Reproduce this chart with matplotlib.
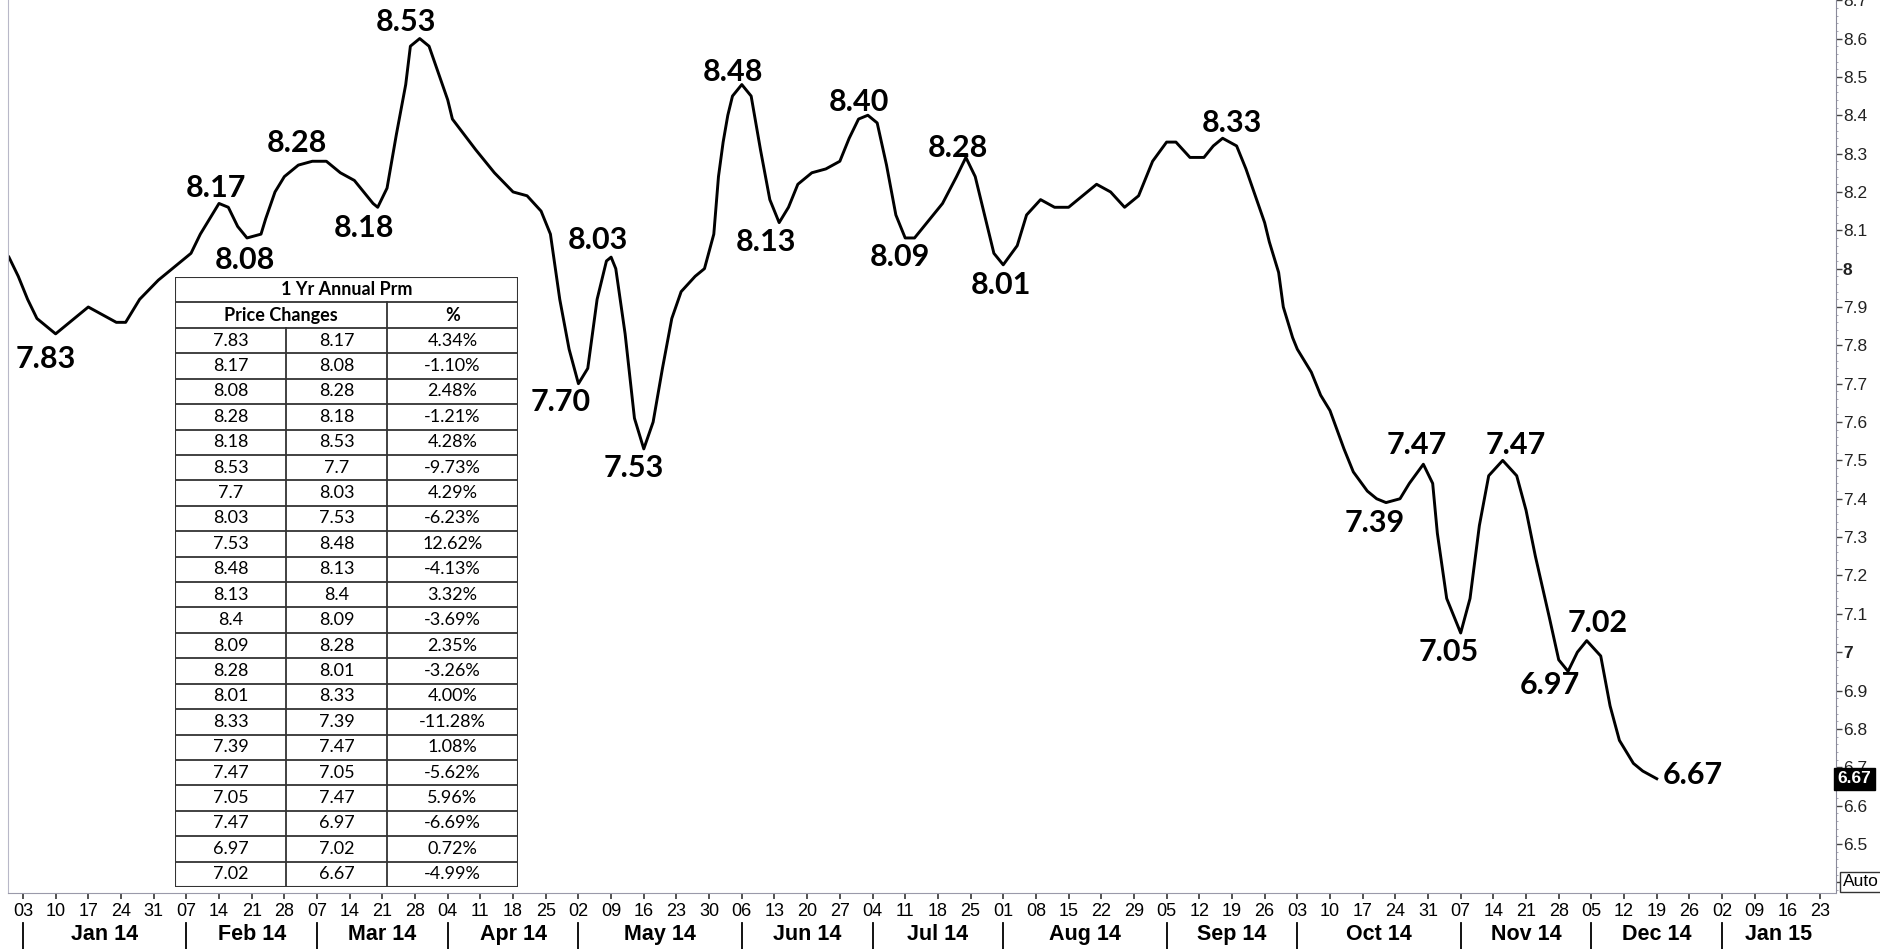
import matplotlib
matplotlib.use('Agg')
import matplotlib.pyplot as plt
import matplotlib.dates as mdates
import matplotlib.transforms as mtransforms
from matplotlib.patches import Rectangle
from matplotlib.ticker import MultipleLocator, FuncFormatter
import pandas as pd

# 1 Yr Annual Prm
dates = [
    '2013-12-31', '2014-01-02', '2014-01-04', '2014-01-06', '2014-01-09', '2014-01-10',
    '2014-01-12', '2014-01-15', '2014-01-17', '2014-01-20', '2014-01-23', '2014-01-25',
    '2014-01-28', '2014-02-01', '2014-02-05', '2014-02-08', '2014-02-10', '2014-02-12',
    '2014-02-14', '2014-02-16', '2014-02-18', '2014-02-20', '2014-02-23', '2014-02-24',
    '2014-02-26', '2014-02-28', '2014-03-03', '2014-03-06', '2014-03-09', '2014-03-12',
    '2014-03-15', '2014-03-17', '2014-03-19', '2014-03-20', '2014-03-22', '2014-03-24',
    '2014-03-26', '2014-03-27', '2014-03-29', '2014-03-31', '2014-04-02', '2014-04-04',
    '2014-04-05', '2014-04-10', '2014-04-14', '2014-04-18', '2014-04-21', '2014-04-24',
    '2014-04-26', '2014-04-28', '2014-04-30', '2014-05-02', '2014-05-04', '2014-05-06',
    '2014-05-08', '2014-05-09', '2014-05-10', '2014-05-12', '2014-05-14', '2014-05-16',
    '2014-05-18', '2014-05-20', '2014-05-22', '2014-05-24', '2014-05-27', '2014-05-29',
    '2014-05-31', '2014-06-01', '2014-06-02', '2014-06-03', '2014-06-04', '2014-06-06',
    '2014-06-08', '2014-06-10', '2014-06-12', '2014-06-14', '2014-06-16', '2014-06-18',
    '2014-06-21', '2014-06-24', '2014-06-27', '2014-06-29', '2014-07-01', '2014-07-03',
    '2014-07-05', '2014-07-07', '2014-07-09', '2014-07-11', '2014-07-13', '2014-07-15',
    '2014-07-19', '2014-07-22', '2014-07-24', '2014-07-26', '2014-07-28', '2014-07-30',
    '2014-08-01', '2014-08-04', '2014-08-06', '2014-08-09', '2014-08-12', '2014-08-15',
    '2014-08-18', '2014-08-21', '2014-08-24', '2014-08-27', '2014-08-30', '2014-09-02',
    '2014-09-05', '2014-09-07', '2014-09-10', '2014-09-13', '2014-09-15', '2014-09-17',
    '2014-09-20', '2014-09-22', '2014-09-24', '2014-09-26', '2014-09-27', '2014-09-29',
    '2014-09-30', '2014-10-02', '2014-10-03', '2014-10-06', '2014-10-08', '2014-10-10',
    '2014-10-13', '2014-10-15', '2014-10-18', '2014-10-20', '2014-10-22', '2014-10-25',
    '2014-10-27', '2014-10-30', '2014-11-01', '2014-11-02', '2014-11-04', '2014-11-07',
    '2014-11-09', '2014-11-11', '2014-11-13', '2014-11-16', '2014-11-19', '2014-11-21',
    '2014-11-23', '2014-11-26', '2014-11-28', '2014-11-30', '2014-12-02', '2014-12-04',
    '2014-12-07', '2014-12-09', '2014-12-11', '2014-12-14', '2014-12-16', '2014-12-19',
]
values = [
    8.03, 7.98, 7.92, 7.87, 7.84, 7.83,
    7.85, 7.88, 7.90, 7.88, 7.86, 7.86,
    7.92, 7.97, 8.01, 8.04, 8.09, 8.13,
    8.17, 8.16, 8.11, 8.08, 8.09, 8.13,
    8.20, 8.24, 8.27, 8.28, 8.28, 8.25,
    8.23, 8.20, 8.17, 8.16, 8.21, 8.35,
    8.48, 8.58, 8.60, 8.58, 8.51, 8.44,
    8.39, 8.31, 8.25, 8.20, 8.19, 8.15,
    8.09, 7.92, 7.79, 7.70, 7.74, 7.92,
    8.02, 8.03, 8.00, 7.83, 7.61, 7.53,
    7.60, 7.74, 7.87, 7.94, 7.98, 8.00,
    8.09, 8.24, 8.33, 8.40, 8.45, 8.48,
    8.45, 8.31, 8.18, 8.12, 8.16, 8.22,
    8.25, 8.26, 8.28, 8.34, 8.39, 8.40,
    8.38, 8.27, 8.14, 8.08, 8.08, 8.11,
    8.17, 8.24, 8.29, 8.24, 8.14, 8.04,
    8.01, 8.06, 8.14, 8.18, 8.16, 8.16,
    8.19, 8.22, 8.20, 8.16, 8.19, 8.28,
    8.33, 8.33, 8.29, 8.29, 8.32, 8.34,
    8.32, 8.26, 8.19, 8.12, 8.07, 7.99,
    7.90, 7.82, 7.79, 7.73, 7.67, 7.63,
    7.53, 7.47, 7.42, 7.40, 7.39, 7.40,
    7.44, 7.49, 7.44, 7.31, 7.14, 7.05,
    7.14, 7.33, 7.46, 7.50, 7.46, 7.37,
    7.25, 7.09, 6.98, 6.95, 7.00, 7.03,
    6.99, 6.86, 6.77, 6.71, 6.69, 6.67,
]

# turning points that carry a price label
label_dates = [
    '2014-01-10', '2014-02-14', '2014-02-20', '2014-03-06', '2014-03-20', '2014-03-29',
    '2014-05-02', '2014-05-09', '2014-05-16', '2014-06-06', '2014-06-14', '2014-07-03',
    '2014-07-11', '2014-07-24', '2014-08-01', '2014-09-17', '2014-10-22', '2014-10-30',
    '2014-11-07', '2014-11-16', '2014-11-30', '2014-12-04', '2014-12-19',
]
label_texts = [
    '7.83', '8.17', '8.08', '8.28', '8.18', '8.53',
    '7.70', '8.03', '7.53', '8.48', '8.13', '8.40',
    '8.09', '8.28', '8.01', '8.33', '7.39', '7.47',
    '7.05', '7.47', '6.97', '7.02', '6.67',
]
label_offsets = [
    (-7, -18), (-2, 11), (-1.5, -16), (-11, 13), (-10, -15), (-10, 12),
    (-13, -13), (-9.5, 12), (-7, -14), (-6, 9), (-9.5, -14), (-6.5, 9.5),
    (-4, -14), (-6, 7), (-2, -14.5), (6.5, 11), (-8, -15), (-4.5, 14),
    (-8.5, -14), (9.5, 11), (-13, -10), (8, 13), (26, 2.5),
]

table_from = [7.83, 8.17, 8.08, 8.28, 8.18, 8.53, 7.7, 8.03, 7.53, 8.48, 8.13,
              8.4, 8.09, 8.28, 8.01, 8.33, 7.39, 7.47, 7.05, 7.47, 6.97, 7.02]
table_to = [8.17, 8.08, 8.28, 8.18, 8.53, 7.7, 8.03, 7.53, 8.48, 8.13, 8.4,
            8.09, 8.28, 8.01, 8.33, 7.39, 7.47, 7.05, 7.47, 6.97, 7.02, 6.67]
table_pct = [4.34, -1.10, 2.48, -1.21, 4.28, -9.73, 4.29, -6.23, 12.62, -4.13, 3.32,
             -3.69, 2.35, -3.26, 4.00, -11.28, 1.08, -5.62, 5.96, -6.69, 0.72, -4.99]

W, H = 1881, 949
NARROW = ['Liberation Sans Narrow', 'Liberation Sans', 'DejaVu Sans']


def draw_table(fig):
    tax = fig.add_axes([175 / W, 62 / H, 343 / W, 610 / H])
    nrows = len(table_from) + 2
    tax.set_xlim(0, 343)
    tax.set_ylim(nrows, 0)
    tax.axis('off')
    edge = '#333333'
    tax.add_patch(Rectangle((0, 0), 343, nrows, facecolor='white',
                            edgecolor=edge, lw=1.5))
    for r in range(1, nrows):
        tax.plot([0, 343], [r, r], color=edge, lw=1.3)
    tax.plot([212, 212], [1, nrows], color=edge, lw=1.3)
    tax.plot([111, 111], [2, nrows], color=edge, lw=1.3)

    kw = dict(ha='center', va='center', fontsize=13, family='Lato')
    tax.text(171.5, 0.5, '1 Yr Annual Prm', fontweight='bold', **kw)
    tax.text(106, 1.5, 'Price Changes', fontweight='bold', **kw)
    tax.text(277.5, 1.5, '%', fontweight='bold', **kw)
    for i, (a, b, p) in enumerate(zip(table_from, table_to, table_pct)):
        y = i + 2.5
        tax.text(55.5, y, f'{a:g}', **kw)
        tax.text(161.5, y, f'{b:g}', **kw)
        tax.text(277.5, y, f'{p:.2f}%', **kw)


def price_label(v, pos):
    # the lowest tick sits behind the Auto box, so it carries no label
    if v < 6.45:
        return ''
    return f'{round(v, 2):g}'


def main():
    fig = plt.figure(figsize=(W / 100, H / 100), dpi=100)
    ax = fig.add_axes([8 / W, 56 / H, 1828 / W, 893 / H])

    x = pd.to_datetime(dates)
    ax.plot(x, values, color='black', lw=2.1, solid_joinstyle='round')

    start = pd.Timestamp('2014-01-03')
    xmax = start + pd.Timedelta(days=388.4)
    ax.set_xlim(start - pd.Timedelta(days=3.2), xmax)
    ax.set_ylim(6.372, 8.7005)

    ax.spines['top'].set_visible(False)
    ax.spines['left'].set_color('#b8b8c8')
    ax.spines['right'].set_color('#8a8a9a')
    ax.spines['bottom'].set_color('#9a9aaa')
    ax.spines['bottom'].set_linestyle((0, (1, 1)))

    # price axis on the right
    ax.yaxis.tick_right()
    ax.yaxis.set_major_locator(MultipleLocator(0.1))
    ax.yaxis.set_minor_locator(MultipleLocator(0.02))
    ax.yaxis.set_major_formatter(FuncFormatter(price_label))
    ax.tick_params(axis='y', which='major', direction='out', length=4, width=1,
                   color='#444444', pad=1, labelsize=12.5, labelcolor='#222222',
                   labelfontfamily=NARROW)
    ax.tick_params(axis='y', which='minor', direction='out', length=1.5,
                   color='#9a9aaa')

    # weekly date axis
    weeks = pd.date_range('2014-01-03', '2015-01-23', freq='7D')
    ax.set_xticks(weeks)
    ax.xaxis.set_major_formatter(mdates.DateFormatter('%d'))
    ax.tick_params(axis='x', direction='out', length=4, width=1.2, color='#333333',
                   pad=3.5, labelsize=13, labelfontfamily=NARROW)

    trans = mtransforms.blended_transform_factory(ax.transData, ax.transAxes)
    firsts = [w for i, w in enumerate(weeks) if i == 0 or w.month != weeks[i - 1].month]
    for f in firsts:
        ax.plot([f, f], [-0.034, -0.064], transform=trans, color='black', lw=1.3,
                clip_on=False)
    bounds = firsts + [xmax]
    for a, b in zip(bounds[:-1], bounds[1:]):
        ax.text(a + (b - a) / 2, -0.047, a.strftime('%b %y'), transform=trans,
                ha='center', va='center', fontsize=15.5, fontweight='bold',
                family=NARROW)

    # price labels at turning points
    for d, t, off in zip(label_dates, label_texts, label_offsets):
        yv = values[dates.index(d)]
        ax.annotate(t, (pd.Timestamp(d), yv), xytext=off, textcoords='offset points',
                    ha='center', va='center', fontsize=22, fontweight='bold',
                    family='Lato')

    # last price marker on the axis
    ytrans = mtransforms.blended_transform_factory(ax.transAxes, ax.transData)
    ax.text(1.001, values[-1], f'{values[-1]:.2f}', transform=ytrans, ha='left',
            va='center', color='white', fontsize=12.5, fontweight='bold',
            family=NARROW, clip_on=False,
            bbox=dict(boxstyle='square,pad=0.2', facecolor='black', edgecolor='black'))

    fig.text(1861 / W, 1 - 882 / H, 'Auto', ha='center', va='center', fontsize=12.5,
             family=NARROW,
             bbox=dict(boxstyle='square,pad=0.15', facecolor='white',
                       edgecolor='#333333', lw=1))

    fig.canvas.draw()
    for lab in ax.get_yticklabels():
        if lab.get_text() in ('8', '7'):
            lab.set_fontweight('bold')

    draw_table(fig)

    fig.savefig('out.png', dpi=100, facecolor='white')


if __name__ == '__main__':
    main()
